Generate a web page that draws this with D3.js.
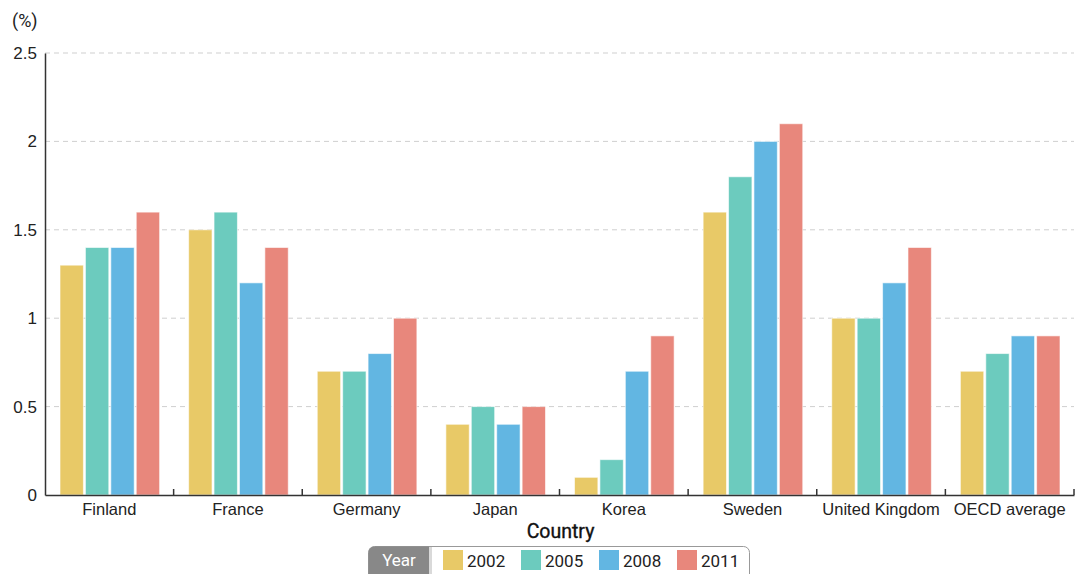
<!DOCTYPE html>
<html>
<head>
<meta charset="utf-8">
<script src="https://cdn.jsdelivr.net/npm/d3@7"></script>
<style>
  html, body { margin: 0; padding: 0; background: #fff; }
  svg { display: block; font-family: Roboto, "Noto Sans", sans-serif; }
</style>
</head>
<body>
<svg id="chart" width="1079" height="574"></svg>
<script>
// Public R&D share by country, selected years
const countries = ["Finland", "France", "Germany", "Japan", "Korea", "Sweden", "United Kingdom", "OECD average"];
const years = ["2002", "2005", "2008", "2011"];
const v2002 = [1.3, 1.5, 0.7, 0.4, 0.1, 1.6, 1.0, 0.7];
const v2005 = [1.4, 1.6, 0.7, 0.5, 0.2, 1.8, 1.0, 0.8];
const v2008 = [1.4, 1.2, 0.8, 0.4, 0.7, 2.0, 1.2, 0.9];
const v2011 = [1.6, 1.4, 1.0, 0.5, 0.9, 2.1, 1.4, 0.9];
const yTicks = [0, 0.5, 1, 1.5, 2, 2.5];
const colors = ["#E8C967", "#6CCBBE", "#62B6E2", "#E8877C"];

const seriesByYear = [v2002, v2005, v2008, v2011];
const rows = countries.map((c, i) => ({
  country: c,
  values: years.map((yr, k) => ({ year: yr, value: seriesByYear[k][i] }))
}));

const svg = d3.select("#chart");
const plot = { left: 45, right: 1074, top: 53, bottom: 495 };

const x0 = d3.scaleBand().domain(countries).range([plot.left, plot.right]).padding(0);
const x1 = d3.scaleBand().domain(years)
  .range([15, x0.bandwidth() - 14]).paddingInner(0.08).paddingOuter(0);
const y = d3.scaleLinear().domain([0, 2.5]).range([plot.bottom, plot.top]);
const color = d3.scaleOrdinal().domain(years).range(colors);

// dashed gridlines
svg.append("g")
  .selectAll("line")
  .data(yTicks.filter(d => d > 0))
  .join("line")
  .attr("x1", plot.left).attr("x2", plot.right)
  .attr("y1", d => y(d)).attr("y2", d => y(d))
  .attr("stroke", "#cfcfcf")
  .attr("stroke-dasharray", "5,4")
  .attr("stroke-width", 1);

// bars
const groups = svg.append("g")
  .selectAll("g")
  .data(rows)
  .join("g")
  .attr("transform", d => `translate(${x0(d.country)},0)`);

groups.selectAll("rect")
  .data(d => d.values)
  .join("rect")
  .attr("x", d => x1(d.year))
  .attr("y", d => y(d.value))
  .attr("width", x1.bandwidth())
  .attr("height", d => y(0) - y(d.value))
  .attr("fill", d => color(d.year))
  .attr("stroke", "#ffffff")
  .attr("stroke-opacity", 0.6)
  .attr("stroke-width", 1);

// y axis
const yAxis = svg.append("g")
  .attr("transform", `translate(${plot.left},0)`)
  .call(d3.axisLeft(y).tickValues(yTicks).tickSize(0).tickPadding(8)
    .tickFormat(d => d3.format("")(d)));
yAxis.select(".domain").attr("stroke", "#333").attr("stroke-width", 1.5);
yAxis.selectAll("text").attr("font-size", 17).attr("fill", "#222");

// x axis
const xAxis = svg.append("g")
  .attr("transform", `translate(0,${plot.bottom})`)
  .call(d3.axisBottom(x0).tickSize(0).tickPadding(8));
xAxis.select(".domain").attr("stroke", "#333").attr("stroke-width", 1.5);
xAxis.selectAll("text").attr("font-size", 16.5).attr("fill", "#222");

// boundary ticks between categories, pointing up
const boundaries = countries.slice(1).map(c => x0(c)).concat([plot.right]);
svg.append("g")
  .selectAll("line")
  .data(boundaries)
  .join("line")
  .attr("x1", d => d).attr("x2", d => d)
  .attr("y1", plot.bottom - 6).attr("y2", plot.bottom)
  .attr("stroke", "#333").attr("stroke-width", 1.5);

// unit label
svg.append("text")
  .attr("x", 12).attr("y", 27)
  .attr("font-size", 18).attr("fill", "#222")
  .text("(%)");

// axis title
svg.append("text")
  .attr("x", (plot.left + plot.right) / 2 + 1).attr("y", 538)
  .attr("text-anchor", "middle")
  .attr("font-size", 19.5).attr("fill", "#111")
  .attr("stroke", "#111").attr("stroke-width", 0.35)
  .text("Country");

// legend
const lg = svg.append("g");
lg.append("rect")
  .attr("x", 368.5).attr("y", 546.5).attr("width", 381).attr("height", 34)
  .attr("rx", 6).attr("fill", "#fff").attr("stroke", "#999").attr("stroke-width", 1);
lg.append("path")
  .attr("d", "M374.5,546.5 H429 V580.5 H374.5 A6,6 0 0 1 368.5,574.5 V552.5 A6,6 0 0 1 374.5,546.5 Z")
  .attr("fill", "#888");
lg.append("rect")
  .attr("x", 429).attr("y", 547).attr("width", 3).attr("height", 33)
  .attr("fill", "#d9d9d9");
lg.append("text")
  .attr("x", 399).attr("y", 566)
  .attr("text-anchor", "middle")
  .attr("font-size", 17).attr("fill", "#fff")
  .text("Year");

const legX = d3.scalePoint().domain(years).range([443, 677]);
const items = lg.selectAll("g.item")
  .data(years)
  .join("g")
  .attr("class", "item")
  .attr("transform", d => `translate(${legX(d)},550)`);
items.append("rect")
  .attr("width", 20).attr("height", 20)
  .attr("fill", d => color(d));
items.append("text")
  .attr("x", 24).attr("y", 16.5)
  .attr("font-size", 17).attr("fill", "#222")
  .text(d => d);
</script>
</body>
</html>
